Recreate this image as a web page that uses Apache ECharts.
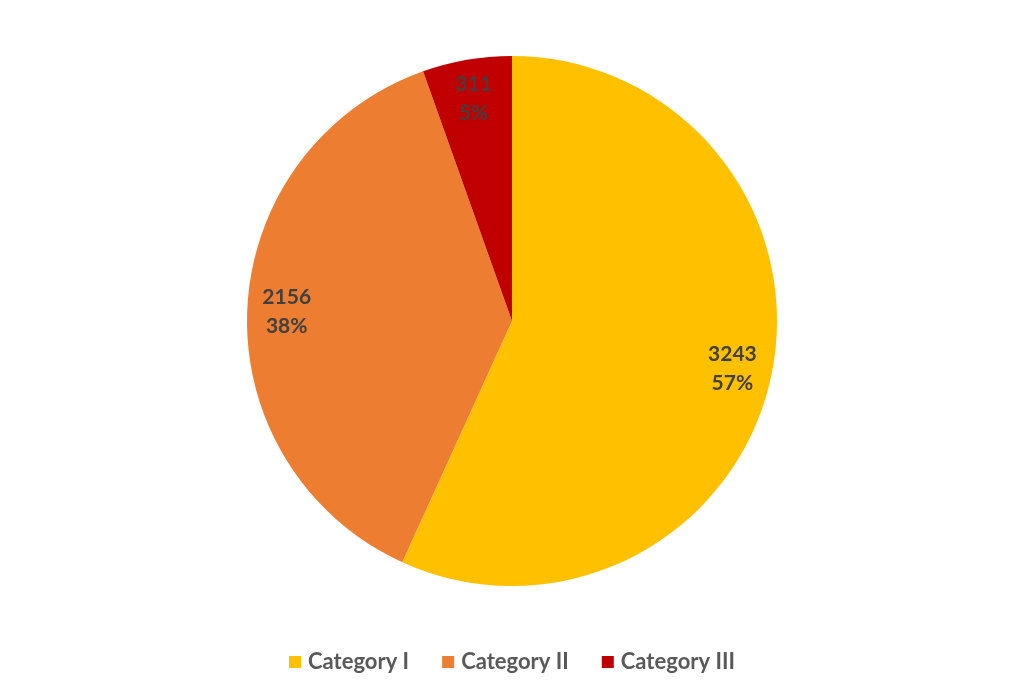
<!DOCTYPE html>
<html>
<head>
<meta charset="utf-8">
<script src="https://cdn.jsdelivr.net/npm/echarts@6/dist/echarts.min.js"></script>
<style>
  html, body { margin: 0; padding: 0; background: #fff; }
  #chart { width: 1024px; height: 688px; }
</style>
</head>
<body>
<div id="chart"></div>
<script>
var categories = ["Category I", "Category II", "Category III"];
var values = [3243, 2156, 311];
var colors = ["#FFC000", "#ED7D31", "#C00000"];

var chartDom = document.getElementById("chart");
var myChart = echarts.init(chartDom);
var option;

var pieData = categories.map(function (name, i) {
  return { name: name, value: values[i], itemStyle: { color: colors[i] } };
});

option = {
  textStyle: { fontFamily: "Lato" },
  legend: {
    bottom: 10,
    left: "center",
    itemWidth: 12,
    itemHeight: 12,
    itemGap: 33,
    icon: "rect",
    textStyle: { fontSize: 22, fontWeight: "bold", color: "#595959", fontFamily: "Lato", padding: [0, 0, 0, 2] },
    data: categories
  },
  series: [
    {
      type: "pie",
      center: [512, 321],
      radius: [0, 265],
      startAngle: 90,
      clockwise: true,
      label: { show: false },
      labelLine: { show: false },
      emphasis: { disabled: true },
      data: pieData
    },
    {
      // transparent ring used only to place labels nearer the rim
      type: "pie",
      center: [512, 321],
      radius: [180, 265],
      startAngle: 90,
      clockwise: true,
      silent: true,
      legendHoverLink: false,
      emphasis: { disabled: true },
      itemStyle: { color: "rgba(0,0,0,0)" },
      label: {
        show: true,
        position: "inside",
        formatter: function (p) { return p.value + "\n" + Math.round(p.percent) + "%"; },
        fontSize: 21,
        fontWeight: "bold",
        color: "#404040",
        lineHeight: 29,
        fontFamily: "Lato"
      },
      labelLine: { show: false },
      data: categories.map(function (name, i) { return { name: name + " ", value: values[i] }; })
    }
  ]
};

option && myChart.setOption(option);
</script>
</body>
</html>
